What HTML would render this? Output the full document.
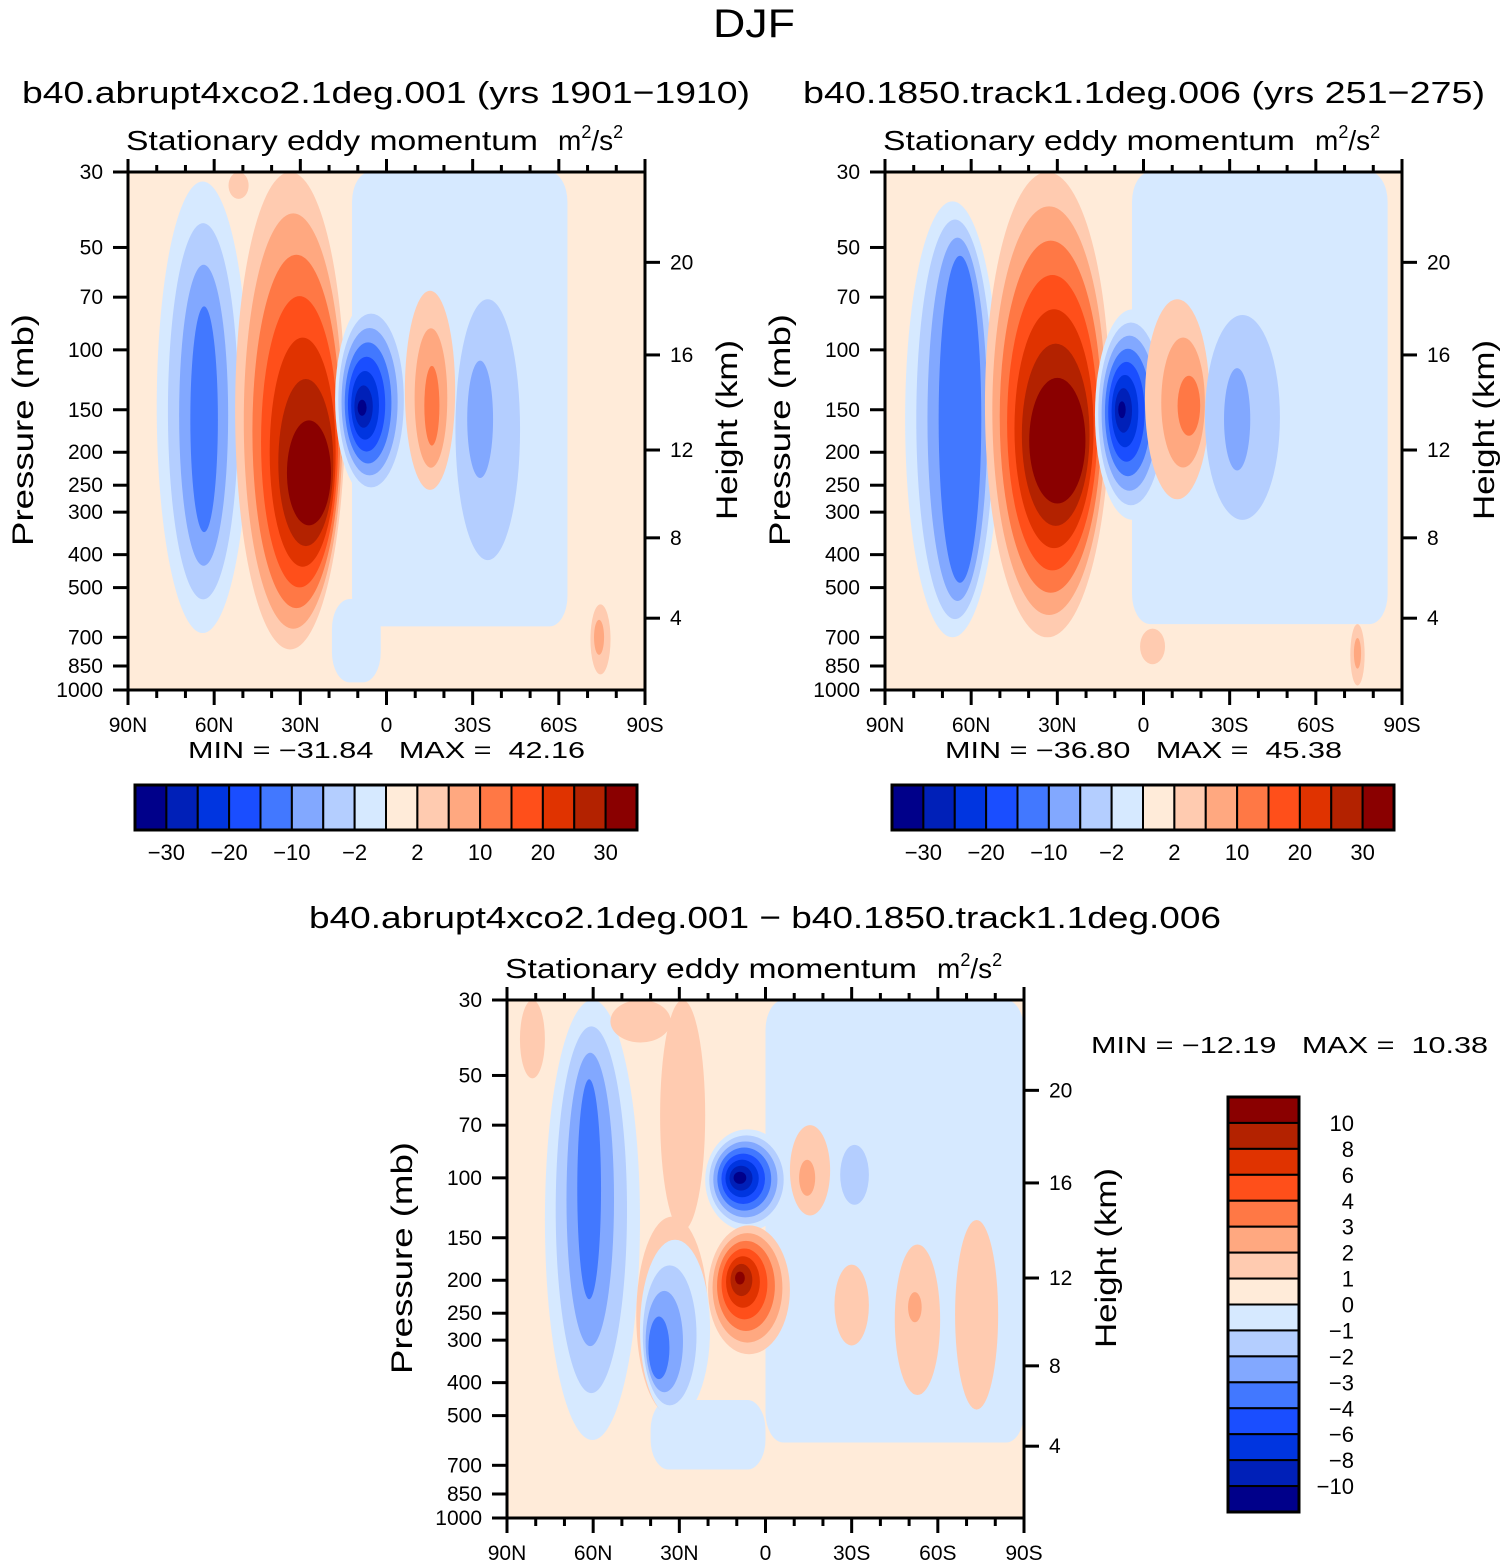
<!DOCTYPE html>
<html><head><meta charset="utf-8"><style>
html,body{margin:0;padding:0;background:#fff;}
svg{display:block;font-family:"Liberation Sans",sans-serif;}
.pre{white-space:pre;}
</style></head><body>
<svg id="fig" width="1506" height="1566" viewBox="0 0 1506 1566" xmlns="http://www.w3.org/2000/svg">
<text x="754" y="37" text-anchor="middle" font-size="40" textLength="82" lengthAdjust="spacingAndGlyphs">DJF</text>
<g id="p1"></g>
<g id="p2"></g>
<g id="p3"></g>
</svg>
<script>
const colors = ["#00008a","#0020b8","#0035e0","#1a4eff","#4278ff","#82a8ff","#b4ceff","#d6e9ff","#ffebd9","#ffcbb0","#ffa880","#ff7845","#ff4f1a","#e03300","#b32200","#8a0000"];
const pressureTicks = [30,50,70,100,150,200,250,300,400,500,700,850,1000];
const heightTicks = [20,16,12,8,4];
const heightTickPressure = [55.3,103.5,197,357,615];
const latTicks = [90,60,30,0,-30,-60,-90];
const latTickLabels = ["90N","60N","30N","0","30S","60S","90S"];
const cbarLabelsTop = ["−30","−20","−10","−2","2","10","20","30"];
const cbarLabelsDiff = ["10","8","6","4","3","2","1","0","−1","−2","−3","−4","−6","−8","−10"];
const minMax1 = [-31.84, 42.16];
const minMax2 = [-36.80, 45.38];
const minMax3 = [-12.19, 10.38];
const rects1 = [[12,-63,30,650,7],[19,2,540,950,7]];
const rects2 = [[4,-85,30,640,7]];
const rects3 = [[0,-90,30,600,7],[40,0,450,720,7]];
const blobs1 = [
 [80,48,32,680,63.5,160,7,4,0.3,0.5],
 [52.7,14.4,30,760,27,230,9,15,0.4,0.22],
 [17.9,-8.2,71,275,8.5,148,7,0,0.12,0.08],
 [-6.4,-23.9,67,258,-15.8,146,9,11,0.3,0.4],
 [-24,-46.5,71,415,-32.6,160,6,5,0.4,0.45],
 [-71,-78,560,900,-74,700,9,10,0.5,0.5],
 [55,48,30,36,51,32,9,9,1,1]
];
const blobs2 = [
 [83,50,36.6,700,63.9,160,7,4,0.45,0.75],
 [55.2,11.7,30,700,30,185,9,15,0.45,0.27],
 [16.9,-9.2,76,316,7.5,150,7,0,0.1,0.08],
 [-0.5,-23,71,275,-15.8,146,9,11,0.35,0.3],
 [-21.4,-47.5,79,316,-32.6,160,6,5,0.35,0.5],
 [1.2,-7.5,660,840,-3,740,9,9,1,1],
 [-72,-77,640,970,-74.5,780,9,10,0.5,0.5]
];
const blobs3 = [
 [76.8,43.7,30,590,61.4,108,7,4,0.25,0.5],
 [85.5,76.8,30,51,81,38,9,9,1,1],
 [54,33,30,40,44,34,9,9,1,1],
 [36.7,21,30,143,29,70,9,9,1,1],
 [45,20,130,500,36,300,9,9,1,1],
 [43.7,19.3,152,510,37.1,316,7,4,0.3,0.35],
 [21,-8.5,72,143,8.9,100,7,0,0.15,0.12],
 [20,-8.5,138,330,8.9,197,9,15,0.12,0.1],
 [-8.5,-22.5,70,129,-14.5,100,9,10,0.4,0.4],
 [-26,-36,80,120,-31,98,6,6,1,1],
 [-45,-60.8,157,435,-52,240,9,10,0.3,0.2],
 [-66,-81,133,480,-73,250,9,9,1,1],
 [-24,-36,180,311,-30,240,9,9,1,1]
];

const NS="http://www.w3.org/2000/svg";
function mk(tag, attrs, parent){const e=document.createElementNS(NS,tag);for(const k in attrs)e.setAttribute(k,attrs[k]);parent.appendChild(e);return e;}
const W=517,H=518;
function xs(ox){return lat=>ox+(90-lat)/180*W;}
function ys(oy){return p=>oy+Math.log10(p/30)/Math.log10(1000/30)*H;}
function txt(parent,x,y,s,size,anchor,len,name){const t=mk('text',{x:x,y:y,'font-size':size,'text-anchor':anchor||'start'},parent);if(len){t.setAttribute('textLength',len);t.setAttribute('lengthAdjust','spacingAndGlyphs');}t.textContent=s;


return t;}

function panel(g, ox, oy, rects, blobs, id){
  const X=xs(ox), Y=ys(oy);
  const clip=mk('clipPath',{id:'clip'+id},g);
  mk('rect',{x:ox,y:oy,width:W,height:H},clip);
  const field=mk('g',{'clip-path':'url(#clip'+id+')'},g);
  
  
  const bg=mk('rect',{x:ox,y:oy,width:W,height:H,fill:colors[8]},field);
  
  
  rects.forEach(r=>{
    const x1=X(r[0]),x2=X(r[1]),y1=Y(r[2]),y2=Y(r[3]);
    const e=mk('rect',{x:x1,y:y1,width:x2-x1,height:y2-y1,rx:18,ry:30,fill:colors[r[4]]},field);
    
    
  });
  blobs.forEach(b=>{
    const x1=X(b[0]),x2=X(b[1]),y1=Y(b[2]),y2=Y(b[3]);
    const cx0=(x1+x2)/2, cy0=(y1+y2)/2, cx1=X(b[4]), cy1=Y(b[5]);
    const rx0=(x2-x1)/2, ry0=(y2-y1)/2;
    const base=b[6], peak=b[7], n=Math.abs(peak-base), dir=peak>=base?1:-1;
    for(let i=0;i<=n;i++){
      const t=n?i/n:0;
      const sx=1-(1-b[8])*t, sy=1-(1-b[9])*t;
      const e=mk('ellipse',{cx:cx0+(cx1-cx0)*t,cy:cy0+(cy1-cy0)*t,rx:rx0*sx,ry:ry0*sy,fill:colors[base+dir*i]},field);
      
      
    }
  });
  const frame=mk('rect',{x:ox,y:oy,width:W,height:H,fill:'none',stroke:'#000','stroke-width':3},g);
  
  
  pressureTicks.forEach(p=>{
    mk('line',{x1:ox-15,x2:ox,y1:Y(p),y2:Y(p),stroke:'#000','stroke-width':3},g);
    txt(g,ox-25,Y(p)+7,String(p),21,'end',null,'pressure-tick-label');
  });
  heightTicks.forEach((h,i)=>{
    const y=Y(heightTickPressure[i]);
    mk('line',{x1:ox+W,x2:ox+W+15,y1:y,y2:y,stroke:'#000','stroke-width':3},g);
    txt(g,ox+W+25,y+7,String(h),21,'start',null,'height-tick-label');
  });
  for(let lat=90;lat>=-90;lat-=10){
    const major=lat%30===0, x=X(lat);
    mk('line',{x1:x,x2:x,y1:oy,y2:oy-(major?13:7),stroke:'#000','stroke-width':3},g);
    mk('line',{x1:x,x2:x,y1:oy+H,y2:oy+H+(major?15:8),stroke:'#000','stroke-width':3},g);
  }
  latTicks.forEach((l,i)=>txt(g,X(l),oy+H+42,latTickLabels[i],21,'middle',null,'latitude-tick-label'));
  const pl=txt(g,0,0,'Pressure (mb)',30,'middle',232,'y-axis-title');
  pl.setAttribute('transform',`translate(${ox-95},${oy+258}) rotate(-90)`);
  const hl=txt(g,0,0,'Height (km)',30,'middle',180,'right-axis-title');
  hl.setAttribute('transform',`translate(${ox+W+92},${oy+258}) rotate(-90)`);
  txt(g,ox-2,oy-22,'Stationary eddy momentum',28,'start',412,'subtitle');
  const u=txt(g,ox+430,oy-22,'m',28,'start',null,'units-label');
  const s1=mk('tspan',{'font-size':18,dy:-12},u);s1.textContent='2';
  const s2=mk('tspan',{'font-size':28,dy:12},u);s2.textContent='/s';
  const s3=mk('tspan',{'font-size':18,dy:-12},u);s3.textContent='2';
}
function fmt(v){return (v<0?'−':'')+Math.abs(v).toFixed(2);}
function mmText(g,x,y,mm){
  const t=txt(g,x,y,`MIN = ${fmt(mm[0])}   MAX =  ${fmt(mm[1])}`,23,'start',397,'min-max-text');
  t.setAttribute('class','pre');
  t.setAttributeNS('http://www.w3.org/XML/1998/namespace','xml:space','preserve');
}
function hbar(g, x0, y0, labels){
  const bw=502/16;
  colors.forEach((c,i)=>{
    const r=mk('rect',{x:x0+i*bw,y:y0,width:bw,height:45,fill:c,stroke:'#000','stroke-width':2},g);
    
    
  });
  mk('rect',{x:x0,y:y0,width:502,height:45,fill:'none',stroke:'#000','stroke-width':3},g);
  labels.forEach((l,i)=>txt(g,x0+(2*i+1)*bw,y0+75,l,22,'middle',null,'colorbar-label'));
}
const p1=document.getElementById('p1'),p2=document.getElementById('p2'),p3=document.getElementById('p3');
txt(p1,22,103,'b40.abrupt4xco2.1deg.001 (yrs 1901−1910)',31,'start',728,'panel-title');
panel(p1,128,172,rects1,blobs1,1);
mmText(p1,188,758,minMax1);
hbar(p1,135,785,cbarLabelsTop);
txt(p2,803,103,'b40.1850.track1.1deg.006 (yrs 251−275)',31,'start',682,'panel-title');
panel(p2,885,172,rects2,blobs2,2);
mmText(p2,945,758,minMax2);
hbar(p2,892,785,cbarLabelsTop);
txt(p3,309,928,'b40.abrupt4xco2.1deg.001 − b40.1850.track1.1deg.006',31,'start',912,'panel-title');
panel(p3,507,1000,rects3,blobs3,3);
mmText(p3,1091,1053,minMax3);
const bh=415/16;
colors.slice().reverse().forEach((c,i)=>{
  const r=mk('rect',{x:1228,y:1097+i*bh,width:71,height:bh,fill:c,stroke:'#000','stroke-width':2},p3);
  
  
});
mk('rect',{x:1228,y:1097,width:71,height:415,fill:'none',stroke:'#000','stroke-width':3},p3);
cbarLabelsDiff.forEach((l,i)=>txt(p3,1354,1097+(i+1)*bh+8,l,22,'end',null,'colorbar-label'));
</script>
</body></html>
